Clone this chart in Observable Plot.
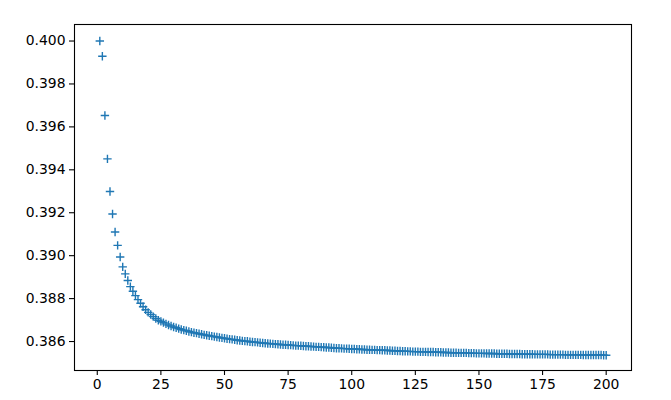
<!DOCTYPE html>
<html>
<head>
<meta charset="utf-8">
<script src="https://cdn.jsdelivr.net/npm/d3@7"></script>
<script src="https://cdn.jsdelivr.net/npm/@observablehq/plot@0.6"></script>
<style>
  html, body { margin: 0; padding: 0; background: white; }
</style>
</head>
<body>
<div id="chart"></div>
<script>
const values = [
  0.40000, 0.39929, 0.39653, 0.39451, 0.39299, 0.39194, 0.39110, 0.39048, 0.38994, 0.38948,
  0.38915, 0.38884, 0.38856, 0.38834, 0.38814, 0.38795, 0.38778, 0.38762, 0.38748, 0.38736,
  0.38726, 0.38716, 0.38707, 0.38699, 0.38694, 0.38688, 0.38682, 0.38677, 0.38672, 0.38668,
  0.38664, 0.38660, 0.38656, 0.38653, 0.38650, 0.38647, 0.38644, 0.38641, 0.38639, 0.38636,
  0.38634, 0.38631, 0.38629, 0.38627, 0.38625, 0.38623, 0.38621, 0.38619, 0.38617, 0.38615,
  0.38613, 0.38611, 0.38610, 0.38608, 0.38606, 0.38605, 0.38603, 0.38602, 0.38601, 0.38599,
  0.38598, 0.38597, 0.38596, 0.38594, 0.38593, 0.38592, 0.38591, 0.38590, 0.38589, 0.38588,
  0.38587, 0.38586, 0.38585, 0.38585, 0.38584, 0.38583, 0.38582, 0.38581, 0.38581, 0.38580,
  0.38579, 0.38578, 0.38578, 0.38577, 0.38576, 0.38575, 0.38575, 0.38574, 0.38573, 0.38572,
  0.38572, 0.38571, 0.38570, 0.38569, 0.38569, 0.38568, 0.38567, 0.38567, 0.38566, 0.38565,
  0.38565, 0.38564, 0.38564, 0.38563, 0.38563, 0.38562, 0.38562, 0.38561, 0.38561, 0.38560,
  0.38560, 0.38559, 0.38559, 0.38558, 0.38558, 0.38557, 0.38557, 0.38556, 0.38556, 0.38555,
  0.38555, 0.38554, 0.38554, 0.38553, 0.38553, 0.38553, 0.38552, 0.38552, 0.38552, 0.38551,
  0.38551, 0.38551, 0.38550, 0.38550, 0.38550, 0.38549, 0.38549, 0.38549, 0.38548, 0.38548,
  0.38548, 0.38547, 0.38547, 0.38547, 0.38547, 0.38546, 0.38546, 0.38546, 0.38545, 0.38545,
  0.38545, 0.38545, 0.38544, 0.38544, 0.38544, 0.38544, 0.38543, 0.38543, 0.38543, 0.38543,
  0.38543, 0.38542, 0.38542, 0.38542, 0.38542, 0.38542, 0.38541, 0.38541, 0.38541, 0.38541,
  0.38541, 0.38540, 0.38540, 0.38540, 0.38540, 0.38540, 0.38540, 0.38539, 0.38539, 0.38539,
  0.38539, 0.38539, 0.38539, 0.38538, 0.38538, 0.38538, 0.38538, 0.38538, 0.38538, 0.38538,
  0.38537, 0.38537, 0.38537, 0.38537, 0.38537, 0.38537, 0.38537, 0.38537, 0.38536, 0.38536
];
const steps = d3.range(1, values.length + 1);
const xTicks = [0, 25, 50, 75, 100, 125, 150, 175, 200];
const yTicks = [0.386, 0.388, 0.390, 0.392, 0.394, 0.396, 0.398, 0.400];

const data = steps.map((s, i) => ({step: s, value: values[i]}));

const plusSymbol = {
  draw(ctx, size) {
    const r = Math.sqrt(size / Math.PI);
    ctx.moveTo(-r, 0); ctx.lineTo(r, 0);
    ctx.moveTo(0, -r); ctx.lineTo(0, r);
  }
};

const chart = Plot.plot({
  width: 671,
  height: 400,
  marginLeft: 74,
  marginRight: 40,
  marginTop: 24,
  marginBottom: 30,
  style: {fontFamily: "DejaVu Sans", fontSize: "13.9px", background: "white", color: "black"},
  x: {domain: [-8.95, 209.95], label: null},
  y: {domain: [0.38465, 0.40077], label: null},
  marks: [
    Plot.axisX({ticks: xTicks, tickSize: 5, tickPadding: 4, tickFormat: d => String(d), label: null, strokeWidth: 1.1, fontSize: 13.9}),
    Plot.axisY({ticks: yTicks, tickSize: 5, tickPadding: 4, tickFormat: d3.format(".3f"), label: null, strokeWidth: 1.1, fontSize: 13.9}),
    Plot.dot(data, {x: "step", y: "value", symbol: plusSymbol, r: 4.2, stroke: "#1f77b4", fill: "none", strokeWidth: 1.4}),
    Plot.frame({stroke: "black", strokeWidth: 1.1})
  ]
});
document.getElementById("chart").appendChild(chart);
</script>
</body>
</html>
